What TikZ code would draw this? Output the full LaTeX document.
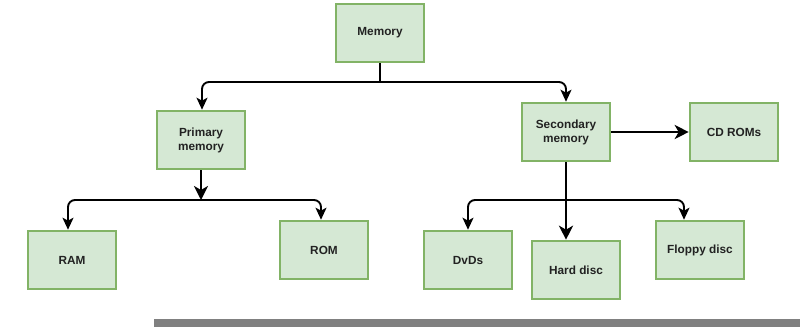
\documentclass[tikz,border=0pt]{standalone}
\usepackage{fontspec}
\setmainfont{Liberation Sans}
\usetikzlibrary{arrows.meta,calc}
\definecolor{boxfill}{HTML}{D5E8D4}
\definecolor{boxline}{HTML}{82B366}
\definecolor{txt}{HTML}{222222}
\definecolor{barcol}{HTML}{808080}
\begin{document}
\begin{tikzpicture}[x=1pt,y=-1pt,
  box/.style={draw=boxline,fill=boxfill,line width=2.6pt,minimum width=88pt,minimum height=58pt,
    inner sep=0pt,align=center,font=\fontsize{11.8}{14}\selectfont\bfseries,text=txt},
  conn/.style={line width=1.9pt,black,rounded corners=7pt,-{Stealth[length=12pt,width=11pt,inset=3pt]}},
  thick conn/.style={line width=2.7pt,black,-{Stealth[length=14pt,width=14pt,inset=4pt]}},
  plain/.style={line width=1.9pt,black}]
\useasboundingbox (0,0) rectangle (800,327);
\fill[white] (0,0) rectangle (800,327);
\fill[barcol] (154,319) rectangle (800,327);
\node[box] (mem) at (380,33) {Memory};
\node[box] (prim) at (201,140) {Primary\\memory};
\node[box] (sec) at (566,132) {Secondary\\memory};
\node[box] (cd) at (734,132) {CD ROMs};
\node[box] (ram) at (72,260) {RAM};
\node[box] (rom) at (324,250) {ROM};
\node[box] (dvd) at (468,260) {DvDs};
\node[box] (hard) at (576,270) {Hard disc};
\node[box] (flop) at (700,250) {Floppy disc};
\coordinate (j1) at (380,82);
\coordinate (j2) at (201,200);
\coordinate (j3) at (566,200);
\draw[plain] (mem.south) -- (j1);
\draw[conn] (j1) -| ([xshift=1pt]prim.north);
\draw[conn] (j1) -| (sec.north);
\draw[thick conn] (prim.south) -- (j2);
\draw[conn] (j2) -| ([xshift=-4pt]ram.north);
\draw[conn] (j2) -| ([xshift=-3pt]rom.north);
\draw[thick conn] (sec.south) -- (sec.south |- hard.north);
\draw[conn] (j3) -| (dvd.north);
\draw[conn] (j3) -| ([xshift=-16pt]flop.north);
\draw[thick conn] (sec.east) -- (cd.west);
\end{tikzpicture}
\end{document}
